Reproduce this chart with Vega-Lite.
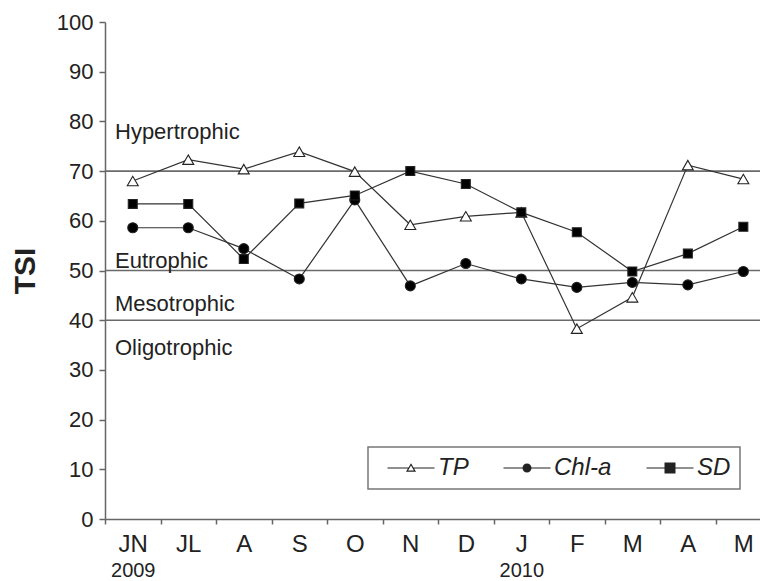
{
  "$schema": "https://vega.github.io/schema/vega-lite/v6.json",
  "width": 655,
  "height": 497,
  "autosize": {"type": "none"},
  "padding": {"left": 105, "top": 22, "right": 0, "bottom": 62},
  "background": "white",
  "config": {
    "view": {"stroke": null},
    "font": "Liberation Sans",
    "legend": {"strokeWidth": 1.5}
  },
  "datasets": {
    "tsi": [
      {"month": 0, "label": "JN", "series": "TP", "value": 68.0},
      {"month": 1, "label": "JL", "series": "TP", "value": 72.3},
      {"month": 2, "label": "A", "series": "TP", "value": 70.4},
      {"month": 3, "label": "S", "series": "TP", "value": 73.9},
      {"month": 4, "label": "O", "series": "TP", "value": 69.9},
      {"month": 5, "label": "N", "series": "TP", "value": 59.2},
      {"month": 6, "label": "D", "series": "TP", "value": 60.9},
      {"month": 7, "label": "J", "series": "TP", "value": 61.7},
      {"month": 8, "label": "F", "series": "TP", "value": 38.3},
      {"month": 9, "label": "M", "series": "TP", "value": 44.6},
      {"month": 10, "label": "A", "series": "TP", "value": 71.2},
      {"month": 11, "label": "M", "series": "TP", "value": 68.4},
      {"month": 0, "label": "JN", "series": "Chl-a", "value": 58.6},
      {"month": 1, "label": "JL", "series": "Chl-a", "value": 58.6},
      {"month": 2, "label": "A", "series": "Chl-a", "value": 54.4},
      {"month": 3, "label": "S", "series": "Chl-a", "value": 48.3},
      {"month": 4, "label": "O", "series": "Chl-a", "value": 64.2},
      {"month": 5, "label": "N", "series": "Chl-a", "value": 46.9},
      {"month": 6, "label": "D", "series": "Chl-a", "value": 51.4},
      {"month": 7, "label": "J", "series": "Chl-a", "value": 48.3},
      {"month": 8, "label": "F", "series": "Chl-a", "value": 46.6},
      {"month": 9, "label": "M", "series": "Chl-a", "value": 47.6},
      {"month": 10, "label": "A", "series": "Chl-a", "value": 47.1},
      {"month": 11, "label": "M", "series": "Chl-a", "value": 49.8},
      {"month": 0, "label": "JN", "series": "SD", "value": 63.4},
      {"month": 1, "label": "JL", "series": "SD", "value": 63.4},
      {"month": 2, "label": "A", "series": "SD", "value": 52.3},
      {"month": 3, "label": "S", "series": "SD", "value": 63.5},
      {"month": 4, "label": "O", "series": "SD", "value": 65.1},
      {"month": 5, "label": "N", "series": "SD", "value": 70.0},
      {"month": 6, "label": "D", "series": "SD", "value": 67.4},
      {"month": 7, "label": "J", "series": "SD", "value": 61.7},
      {"month": 8, "label": "F", "series": "SD", "value": 57.7},
      {"month": 9, "label": "M", "series": "SD", "value": 49.8},
      {"month": 10, "label": "A", "series": "SD", "value": 53.4},
      {"month": 11, "label": "M", "series": "SD", "value": 58.8}
    ],
    "classes": [{"level": 70}, {"level": 50}, {"level": 40}],
    "zones": [
      {"zone": "Hypertrophic", "tsi": 77.8},
      {"zone": "Eutrophic", "tsi": 51.9},
      {"zone": "Mesotrophic", "tsi": 43.3},
      {"zone": "Oligotrophic", "tsi": 34.5}
    ]
  },
  "layer": [
    {
      "data": {"name": "classes"},
      "mark": {"type": "rule", "color": "#6a6a6a", "strokeWidth": 1.6},
      "encoding": {
        "y": {"field": "level", "type": "quantitative", "scale": {"domain": [0, 100], "nice": false}, "axis": null}
      }
    },
    {
      "data": {"name": "zones"},
      "mark": {"type": "text", "align": "left", "baseline": "middle", "dx": 10, "fontSize": 22, "color": "#222"},
      "encoding": {
        "x": {
          "datum": -0.5, "type": "quantitative",
          "scale": {"domain": [-0.5, 11.3], "nice": false, "zero": false},
          "axis": {
            "orient": "bottom", "values": [-0.5, 0.5, 1.5, 2.5, 3.5, 4.5, 5.5, 6.5, 7.5, 8.5, 9.5, 10.5],
            "labels": false, "domain": false, "grid": false, "title": null,
            "tickSize": 5, "tickColor": "#666", "tickWidth": 1.5
          }
        },
        "y": {"field": "tsi", "type": "quantitative", "axis": null},
        "text": {"field": "zone"}
      }
    },
    {
      "data": {"name": "tsi"},
      "mark": {"type": "line", "color": "#333", "strokeWidth": 1.2},
      "encoding": {
        "x": {
          "field": "month", "type": "quantitative",
          "axis": {
            "orient": "bottom", "values": [0, 1, 2, 3, 4, 5, 6, 7, 8, 9, 10, 11],
            "labelExpr": "['JN','JL','A','S','O','N','D','J','F','M','A','M'][datum.value]",
            "ticks": false, "grid": false, "title": null,
            "labelFontSize": 24, "labelColor": "#222", "labelPadding": 13,
            "labelFlush": false, "labelOverlap": false, "labelBound": false,
            "domainColor": "#666", "domainWidth": 1.5
          }
        },
        "y": {
          "field": "value", "type": "quantitative",
          "axis": {
            "values": [0, 10, 20, 30, 40, 50, 60, 70, 80, 90, 100],
            "title": "TSI", "titleFontSize": 30, "titleFontWeight": "bold", "titleColor": "#222", "titlePadding": 16,
            "labelFontSize": 22, "labelColor": "#222", "labelPadding": 6,
            "tickSize": 6, "tickColor": "#666", "tickWidth": 1.5,
            "domainColor": "#666", "domainWidth": 1.5, "grid": false
          }
        },
        "detail": {"field": "series"}
      }
    },
    {
      "data": {"name": "tsi"},
      "mark": {"type": "point", "filled": true, "opacity": 1, "stroke": "#222", "strokeWidth": 1.1},
      "encoding": {
        "x": {
          "field": "month", "type": "quantitative",
          "axis": {
            "orient": "bottom", "values": [0, 7],
            "labelExpr": "datum.value == 0 ? '2009' : '2010'",
            "ticks": false, "domain": false, "grid": false, "title": null,
            "labelFontSize": 20, "labelColor": "#222", "labelPadding": 41,
            "labelFlush": false, "labelOverlap": false
          }
        },
        "y": {"field": "value", "type": "quantitative", "axis": null},
        "shape": {"field": "series", "type": "nominal", "scale": {"domain": ["TP", "Chl-a", "SD"], "range": ["triangle-up", "circle", "square"]}, "legend": null},
        "fill": {"field": "series", "type": "nominal", "scale": {"domain": ["TP", "Chl-a", "SD"], "range": ["white", "black", "black"]}, "legend": null},
        "size": {"field": "series", "type": "nominal", "scale": {"domain": ["TP", "Chl-a", "SD"], "range": [120, 80, 125]}, "legend": null}
      }
    },
    {
      "data": {"name": "tsi"},
      "transform": [{"filter": "datum.value < 0"}],
      "mark": {"type": "point", "filled": true, "opacity": 1, "color": "#222", "size": 100},
      "encoding": {
        "x": {"field": "month", "type": "quantitative", "axis": null},
        "y": {"field": "value", "type": "quantitative", "axis": null},
        "shape": {
          "field": "series", "type": "nominal",
          "scale": {"domain": ["TP", "Chl-a", "SD"], "range": [
            "M-4.7,-0.12H-0.5V0.12H-4.7ZM0.5,-0.12H4.7V0.12H0.5ZM0,-0.95L1,0.75L-1,0.75ZM0,-0.476L-0.58,0.51L0.58,0.51Z",
            "M-4.7,-0.12H-0.8V0.12H-4.7ZM0.8,-0.12H4.7V0.12H0.8ZM0.9,0A0.9,0.9,0,1,1,-0.9,0A0.9,0.9,0,1,1,0.9,0Z",
            "M-4.7,-0.12H-1V0.12H-4.7ZM1,-0.12H4.7V0.12H1ZM-1.1,-1.1H1.1V1.1H-1.1Z"
          ]},
          "legend": {
            "orient": "none", "legendX": 263, "legendY": 425, "direction": "horizontal",
            "title": " ", "titleOrient": "left", "titleFontSize": 10, "titlePadding": 22,
            "labelFontSize": 24, "labelFontStyle": "italic", "labelColor": "#222",
            "symbolSize": 100, "symbolFillColor": "#222", "symbolStrokeWidth": 0, "symbolOpacity": 1,
            "labelOffset": 15, "columnPadding": 34, "padding": 9,
            "strokeColor": "#777", "fillColor": "white"
          }
        }
      }
    }
  ],
  "resolve": {
    "scale": {"shape": "independent", "fill": "independent", "size": "independent"},
    "axis": {"x": "independent", "y": "independent"}
  }
}
